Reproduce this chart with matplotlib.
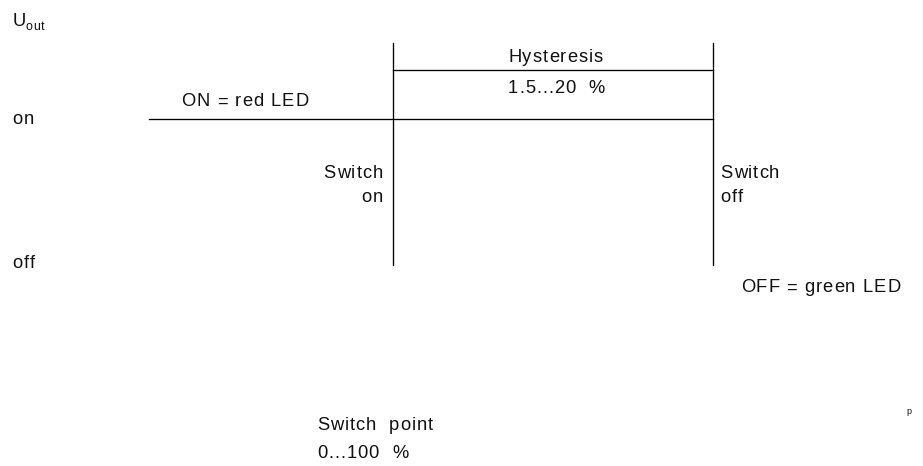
import matplotlib.pyplot as plt
from matplotlib.font_manager import FontProperties

# diagram geometry in pixel coordinates (x right, y down)
level_on = 119.3
band_top = 70.3
x_switch_on = 393.3
x_switch_off = 712.5
x_on_start = 149
v_top, v_bottom = 42.7, 265

labels = [
    # text, x, baseline y, ha
    ("on", 12.5, 124, "left"),
    ("off", 12.5, 268.5, "left"),
    ("ON = red LED", 181.5, 106.5, "left"),
    ("Hysteresis", 555.5, 61.5, "center"),
    ("1.5...20  %", 556.5, 93.3, "center"),
    ("Switch", 382.7, 178.5, "right"),
    ("on", 382.7, 201.5, "right"),
    ("Switch", 720.5, 178.5, "left"),
    ("off", 720.5, 201.5, "left"),
    ("OFF = green LED", 740.7, 292.5, "left"),
    ("Switch  point", 317, 430.5, "left"),
    ("0...100  %", 317, 458.5, "left"),
]

FONT = ['Liberation Sans', 'DejaVu Sans']
SIZE = 13.2
TRACK = 1.0  # extra pixels between letters

fig = plt.figure(figsize=(9.23, 4.66), dpi=100)
ax = fig.add_axes([0, 0, 1, 1])
ax.set_xlim(0, 923)
ax.set_ylim(466, 0)
ax.axis('off')
renderer = fig.canvas.get_renderer()


def text_w(s, prop):
    # width in pixels including trailing spaces
    bar = renderer.get_text_width_height_descent("|", prop, ismath=False)[0]
    return renderer.get_text_width_height_descent(s + "|", prop, ismath=False)[0] - bar


def tracked_text(x, y, s, ha='left', size=SIZE, track=TRACK):
    prop = FontProperties(family=FONT, size=size)
    total = text_w(s, prop) + track * (len(s) - 1)
    if ha == 'center':
        x = x - total / 2
    elif ha == 'right':
        x = x - total
    for i, ch in enumerate(s):
        if ch == " ":
            continue
        cx = x + text_w(s[:i], prop) + track * i
        ax.text(cx, y, ch, ha='left', va='baseline', fontproperties=prop,
                color='#111111')


lw = 0.95
ax.plot([x_on_start, x_switch_off], [level_on, level_on], color='black', lw=lw)
ax.plot([x_switch_on, x_switch_off], [band_top, band_top], color='black', lw=lw)
ax.plot([x_switch_on, x_switch_on], [v_top, v_bottom], color='black', lw=lw)
ax.plot([x_switch_off, x_switch_off], [v_top, v_bottom], color='black', lw=lw)

for text, x, y, ha in labels:
    tracked_text(x, y, text, ha=ha)

# U_out label
tracked_text(12.5, 26, "U", size=SIZE)
tracked_text(26, 30.5, "out", size=9.0, track=0.6)
tracked_text(906, 414, "p", size=6.5, track=0)

fig.savefig('out.png', dpi=100)
